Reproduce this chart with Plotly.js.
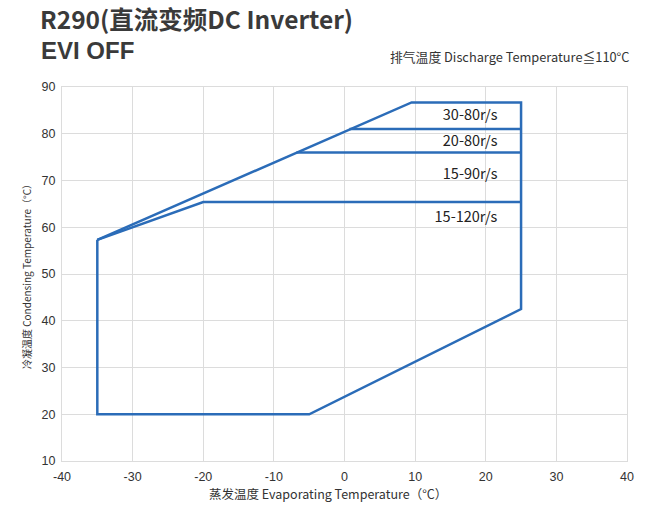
<!DOCTYPE html>
<html><head><meta charset="utf-8">
<script src="https://cdn.plot.ly/plotly-3.0.1.min.js"></script>
<style>body{margin:0;background:#fff}#c{width:667px;height:505px}</style>
</head><body><div id="c"></div>
<script>
// Envelope outline (Evaporating temp, Condensing temp)
const envX = [-35, -35, -5, 25, 25, 9.5, -35];
const envY = [57.3, 20, 20, 42.5, 86.7, 86.7, 57.3];
// Speed band boundaries
const band3080X = [0.7, 25];
const band3080Y = [81, 81];
const band2080X = [-6.8, 25];
const band2080Y = [76, 76];
const band15120X = [-35, -20, 25];
const band15120Y = [57.3, 65.4, 65.4];
// Band labels
const labelText = ["30-80r/s", "20-80r/s", "15-90r/s", "15-120r/s"];
const labelX = [17.8, 17.8, 17.8, 17.2];
const labelY = [83.8, 78.2, 71.2, 62];
const xTicks = [-40, -30, -20, -10, 0, 10, 20, 30, 40];
const yTicks = [10, 20, 30, 40, 50, 60, 70, 80, 90];

const lineStyle = {color: '#2b6cb8', width: 2.5};
const cjk = '"Noto Sans CJK SC", "Noto Sans", sans-serif';
const tickFont = {family: 'Liberation Sans, Arial, sans-serif', size: 12.5, color: '#333'};
const traces = [
  {x: envX, y: envY, mode: 'lines', line: lineStyle, hoverinfo: 'skip'},
  {x: band3080X, y: band3080Y, mode: 'lines', line: lineStyle, hoverinfo: 'skip'},
  {x: band2080X, y: band2080Y, mode: 'lines', line: lineStyle, hoverinfo: 'skip'},
  {x: band15120X, y: band15120Y, mode: 'lines', line: lineStyle, hoverinfo: 'skip'},
  {x: labelX, y: labelY, mode: 'text', text: labelText, textposition: 'middle center',
   textfont: {family: cjk, size: 14.5, color: '#222'}, hoverinfo: 'skip'}
];
const plotH = 505 - 87 - 44, plotW = 667 - 62 - 40;
const px = v => (v - 62) / plotW;
const py = v => 1 + (87 - v) / plotH;
const layout = {
  width: 667, height: 505,
  margin: {l: 62, r: 40, t: 87, b: 44},
  showlegend: false,
  paper_bgcolor: '#fff', plot_bgcolor: '#fff',
  xaxis: {
    range: [-40, 40], tickvals: xTicks, ticktext: xTicks.map(String),
    ticks: 'outside', ticklen: 4, tickcolor: 'rgba(0,0,0,0)',
    showgrid: true, gridcolor: '#dcdcdc', gridwidth: 1,
    zeroline: false, showline: true, linecolor: '#dcdcdc', mirror: true,
    tickfont: tickFont
  },
  yaxis: {
    range: [10, 90], tickvals: yTicks, ticktext: yTicks.map(String),
    ticks: 'outside', ticklen: 3, tickcolor: 'rgba(0,0,0,0)',
    showgrid: true, gridcolor: '#dcdcdc', gridwidth: 1,
    zeroline: false, showline: true, linecolor: '#dcdcdc', mirror: true,
    tickfont: tickFont,
    title: {text: '冷凝温度 Condensing Temperature（°C）', standoff: 8,
      font: {family: cjk, size: 10, color: '#333'}}
  },
  annotations: [{
    text: '<b>R290(直流变频DC Inverter)</b>',
    xref: 'paper', yref: 'paper', x: px(38), y: py(18.5),
    xanchor: 'left', yanchor: 'middle', showarrow: false,
    font: {family: cjk, size: 24.5, color: '#3a3a3a'}
  }, {
    text: '<b>EVI OFF</b>',
    xref: 'paper', yref: 'paper', x: px(39), y: py(50),
    xanchor: 'left', yanchor: 'middle', showarrow: false,
    font: {family: 'Liberation Sans, Arial, sans-serif', size: 24, color: '#3a3a3a'}
  }, {
    text: '排气温度 Discharge Temperature≦110°C',
    xref: 'paper', yref: 'paper', x: px(632), y: py(57), xanchor: 'right', yanchor: 'middle',
    showarrow: false, font: {family: cjk, size: 12.8, color: '#333'}
  }, {
    text: '蒸发温度 Evaporating Temperature（°C）',
    xref: 'paper', yref: 'paper', x: px(328), y: py(494), xanchor: 'center', yanchor: 'middle',
    showarrow: false, font: {family: cjk, size: 12.5, color: '#333'}
  }]
};
Plotly.newPlot('c', traces, layout, {displayModeBar: false, staticPlot: true});
</script></body></html>
